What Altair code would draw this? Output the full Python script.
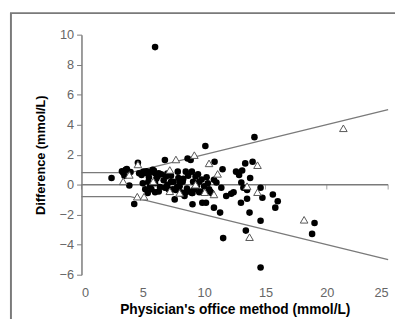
import altair as alt
import pandas as pd

# Filled circles (x = physician's office method, y = difference)
circ_x = [6.0, 2.45, 3.4, 3.6, 3.9, 4.3, 4.6, 4.7, 5.05, 5.3, 5.45, 5.6, 5.8, 6.0, 6.1, 6.3, 6.0,
          6.8, 6.9, 7.0, 7.3, 7.45, 7.6, 7.85, 8.0, 8.1, 8.25, 8.4, 8.65, 8.9, 8.5, 9.0, 9.05, 9.05,
          9.3, 9.4, 9.6, 9.7, 9.85, 10.1, 10.15, 10.3, 10.5, 10.8, 10.85, 10.8, 11.3, 11.4, 11.55,
          11.5, 11.8, 12.2, 12.6, 12.85, 13.0, 13.03, 13.2, 13.35, 13.4, 13.5, 13.7, 13.75, 13.95,
          14.1, 14.6, 14.6, 14.6, 14.75, 15.6, 15.8, 16.0, 18.8, 19.0,
          3.3, 3.5, 3.7, 4.0, 4.9, 5.0, 5.2, 5.3, 5.5, 5.6, 5.7, 5.9, 6.2, 6.4, 6.5, 6.7, 6.8, 7.0,
          7.1, 7.3, 7.5, 7.7, 7.9, 8.0, 8.2, 8.3, 8.6, 8.7, 8.8, 9.1, 9.2, 9.5, 9.8, 10.0, 10.2,
          10.4, 10.6, 11.0, 12.4, 13.1, 13.5, 5.4, 6.0, 6.3, 8.5, 9.0, 9.6, 7.8]
circ_y = [9.17, 0.44, 0.8, 1.0, -0.05, -1.29, 1.46, 0.76, 0.87, 0.76, 0.2, -0.1, 1.0, 0.76, 0.4, 0.76, -0.5,
          1.64, 0.55, 0.0, 0.2, -0.3, -0.98, 0.87, -0.1, -0.5, 0.2, -0.75, 1.75, 1.64, 0.87, 0.87, -0.55, -1.3,
          0.55, -0.1, 0.2, -0.45, -1.2, 2.58, -1.2, 0.1, -0.45, -1.53, 1.53, 0.33, -1.86, -0.2, -3.56,
          1.03, -0.76, -0.6, 0.87, 0.65, -1.2, 0.15, -0.2, 1.42, -3.06, -0.94, -1.86, 0.44, 1.53,
          3.17, -2.4, -0.2, -5.52, -0.87, -0.65, -1.53, -1.1, -3.28, -2.55,
          0.9, 0.6, 1.05, 0.85, 0.65, 0.1, -0.3, 0.9, 0.5, 0.85, -0.3, 0.95, 0.55, -0.15, 0.7, 0.3, -0.2, 0.75,
          -0.3, 0.6, 0.2, -0.35, 0.45, 0.15, -0.6, 0.4, -0.25, 0.6, -0.45, 0.2, -0.3, 0.7, 0.35, -0.1, 0.5,
          -0.3, -0.55, 0.15, -0.5, 0.95, -0.35, -0.55, 0.1, -0.45, -0.5, -0.55, -0.5, -0.15]

# Open triangles
tri_x = [3.4, 3.9, 4.55, 5.1, 5.85, 7.7, 7.2, 7.2, 8.0, 9.2, 10.4, 10.05, 10.8, 11.1, 13.5, 13.7,
         14.35, 14.35, 18.15, 21.35, 9.3, 4.6]
tri_y = [0.22, 0.65, -0.8, -0.8, 0.22, 1.68, 0.98, -0.44, -0.55, 1.97, 1.42, -0.5, -0.65, 0.72, -0.1, -3.5,
         1.3, -0.5, -2.34, 3.76, 0.0, 1.35]

# Limit lines
upper_x = [0, 4, 25]
upper_y = [0.8, 0.8, 5.0]
lower_x = [0, 4, 25]
lower_y = [-0.8, -0.8, -5.0]
zero_x = [0, 25]
zero_y = [0, 0]
tick_x = [0, 5, 10, 15, 20, 25]
y_ticks = [-6, -4, -2, 0, 2, 4, 6, 8, 10]

FONT = "Liberation Sans"
GRAY = "#7a7a7a"

xs = alt.Scale(domain=[0, 25], nice=False)
ys = alt.Scale(domain=[-6, 10], nice=False)

circ_df = pd.DataFrame({"x": circ_x, "y": circ_y})
tri_df = pd.DataFrame({"x": tri_x, "y": tri_y})
up_df = pd.DataFrame({"x": upper_x, "y": upper_y})
lo_df = pd.DataFrame({"x": lower_x, "y": lower_y})
zero_df = pd.DataFrame({"x": zero_x, "y": zero_y})
tick_df = pd.DataFrame({"x": tick_x, "y": [0] * len(tick_x)})

x_axis = alt.Axis(values=tick_x, domain=False, ticks=False, grid=False, labelPadding=12,
                  labelOverlap=False, title="Physician's office method (mmol/L)", titlePadding=4,
                  titleFontSize=14)
y_axis = alt.Axis(values=y_ticks, grid=False, tickSize=5, labelPadding=3, labelOverlap=False,
                  title="Difference (mmol/L)", titlePadding=12, titleFontSize=13)

X = alt.X("x:Q", scale=xs, axis=x_axis)
Y = alt.Y("y:Q", scale=ys, axis=y_axis)

frame = alt.Chart(pd.DataFrame({"a": [0]})).mark_rect(
    filled=False, stroke=GRAY, strokeWidth=2
).encode(x=alt.value(-72), x2=alt.value(340), y=alt.value(-22), y2=alt.value(320))

zero_line = alt.Chart(zero_df).mark_line(color=GRAY, strokeWidth=1.5).encode(x=X, y=Y)
zero_ticks = alt.Chart(tick_df).mark_tick(orient="vertical", color=GRAY, size=5, yOffset=2.5,
                                          thickness=1).encode(x=X, y=Y)
up_line = alt.Chart(up_df).mark_line(color=GRAY, strokeWidth=1.3).encode(x=X, y=Y)
lo_line = alt.Chart(lo_df).mark_line(color=GRAY, strokeWidth=1.3).encode(x=X, y=Y)

circles = alt.Chart(circ_df).mark_point(shape="circle", filled=True, color="black", opacity=1,
                                        size=45).encode(x=X, y=Y)
tris = alt.Chart(tri_df).mark_point(shape="triangle-up", filled=True, fill="white",
                                    stroke="#555555", strokeWidth=1, opacity=1, size=60
                                    ).encode(x=X, y=Y)

chart = alt.layer(frame, zero_line, zero_ticks, up_line, lo_line, circles, tris).properties(
    width=313, height=245,
    autosize=alt.AutoSizeParams(type="none"),
    padding={"left": 75, "top": 24, "right": 7, "bottom": 42},
).configure_view(stroke=None).configure_axis(
    labelFont=FONT, labelFontSize=13, labelColor="#666666",
    titleFont=FONT, titleFontWeight="bold", titleColor="black",
    domainColor=GRAY, tickColor=GRAY, domainWidth=1.5, labelOverlap=False,
)

chart.save("out.html", embed_options={"renderer": "svg", "actions": False})
